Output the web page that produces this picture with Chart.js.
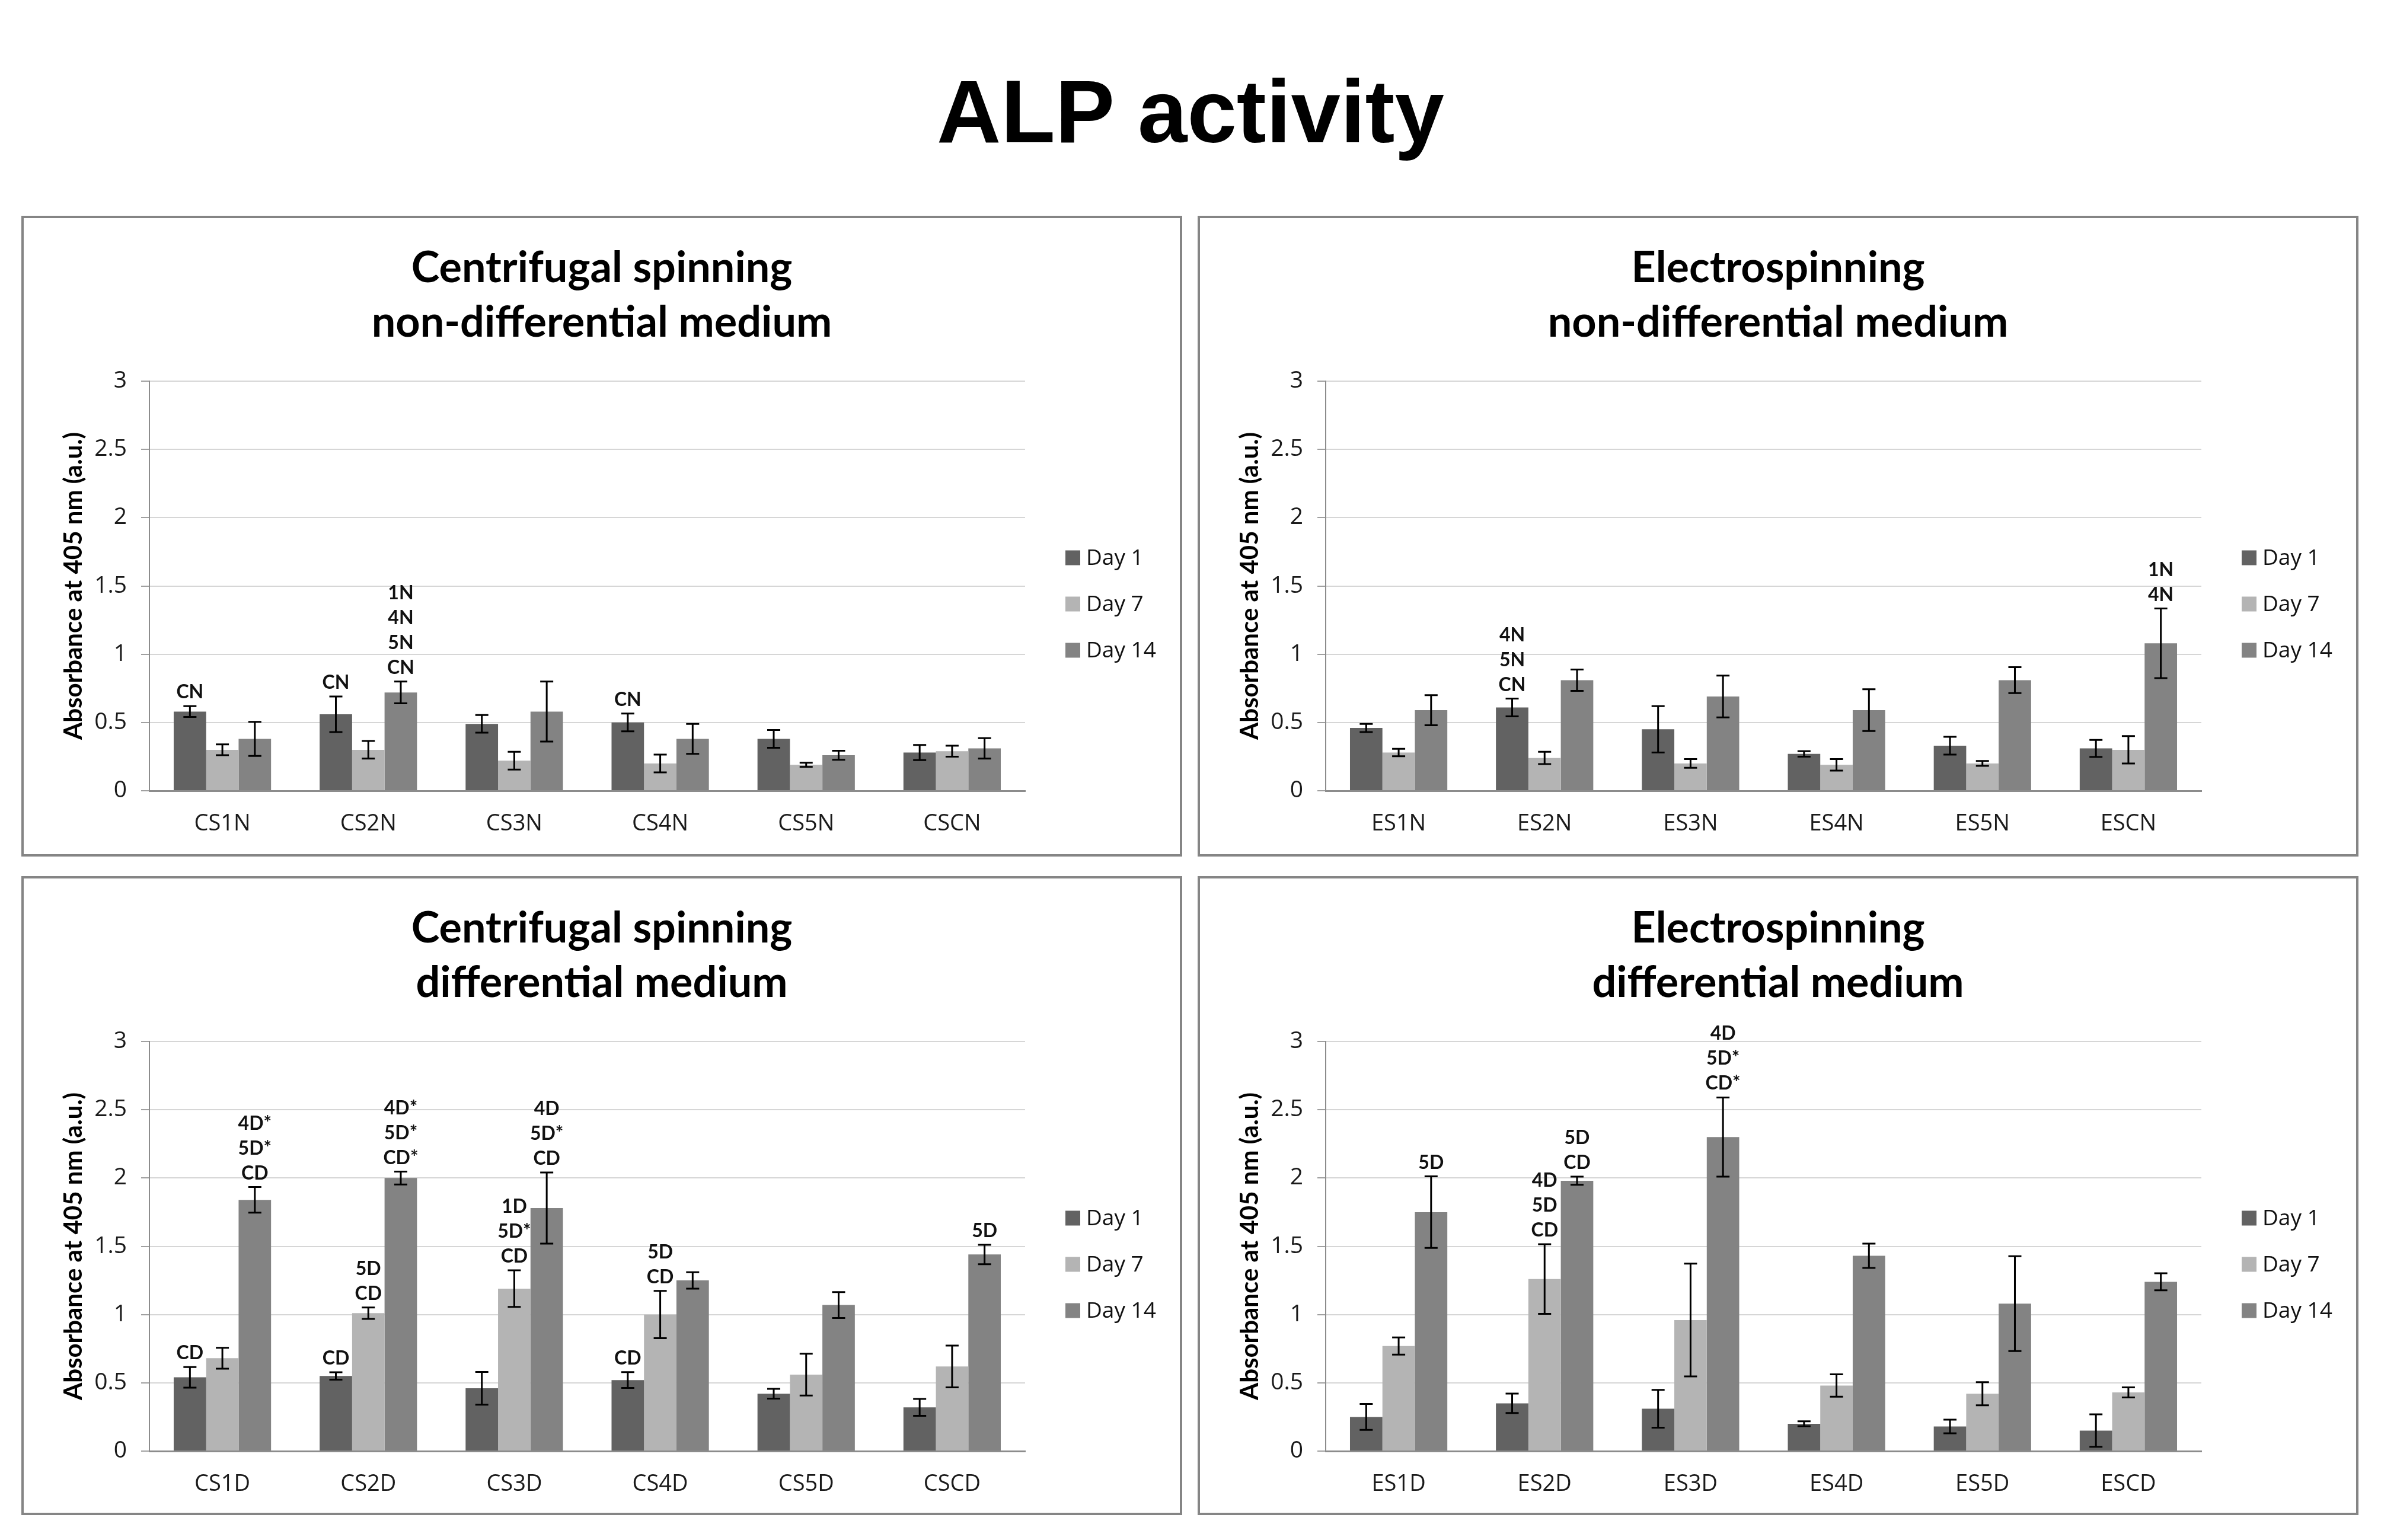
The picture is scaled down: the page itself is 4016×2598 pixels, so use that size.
<!DOCTYPE html>
<html><head><meta charset="utf-8">
<script src="https://cdn.jsdelivr.net/npm/chart.js@4.4.1/dist/chart.umd.min.js"></script>
<style>
html,body{margin:0;padding:0;background:#fff;}
body{width:4016px;height:2598px;position:relative;overflow:hidden;}
#mainTitle{position:absolute;left:0;top:113px;width:4016px;text-align:center;font-family:"Liberation Sans",Arial,sans-serif;font-weight:bold;font-size:150px;line-height:150px;color:#000;}
.panel{position:absolute;box-sizing:border-box;border:4px solid #858585;background:#fff;}
.panel canvas{position:absolute;left:0;top:0;}
</style></head><body>
<div id="mainTitle">ALP activity</div>
<div class="panel" style="left:36px;top:364px;width:1958px;height:1081px"><canvas id="c1" width="1950" height="1073"></canvas></div>
<div class="panel" style="left:2020px;top:364px;width:1958px;height:1081px"><canvas id="c2" width="1950" height="1073"></canvas></div>
<div class="panel" style="left:36px;top:1478px;width:1958px;height:1078px"><canvas id="c3" width="1950" height="1070"></canvas></div>
<div class="panel" style="left:2020px;top:1478px;width:1958px;height:1078px"><canvas id="c4" width="1950" height="1070"></canvas></div>
<script>
// ---------- DATA ----------
const seriesLabels = ['Day 1', 'Day 7', 'Day 14'];
const yTickLabels = ['0', '0.5', '1', '1.5', '2', '2.5', '3'];
const yAxisTitle = 'Absorbance at 405 nm (a.u.)';

// Centrifugal spinning, non-differential medium
const csnTitle = ['Centrifugal spinning', 'non-differential medium'];
const csnCats = ['CS1N', 'CS2N', 'CS3N', 'CS4N', 'CS5N', 'CSCN'];
const csnDay1 = [0.58, 0.56, 0.49, 0.50, 0.38, 0.28];
const csnDay7 = [0.30, 0.30, 0.22, 0.20, 0.19, 0.29];
const csnDay14 = [0.38, 0.72, 0.58, 0.38, 0.26, 0.31];
const csnErr1 = [0.04, 0.13, 0.065, 0.065, 0.065, 0.055];
const csnErr7 = [0.04, 0.065, 0.065, 0.065, 0.015, 0.04];
const csnErr14 = [0.125, 0.08, 0.22, 0.11, 0.033, 0.075];
const csnNotes = [[0, 0, ['CN']], [1, 0, ['CN']], [1, 2, ['1N', '4N', '5N', 'CN']], [3, 0, ['CN']]];

// Electrospinning, non-differential medium
const esnTitle = ['Electrospinning', 'non-differential medium'];
const esnCats = ['ES1N', 'ES2N', 'ES3N', 'ES4N', 'ES5N', 'ESCN'];
const esnDay1 = [0.46, 0.61, 0.45, 0.27, 0.33, 0.31];
const esnDay7 = [0.28, 0.24, 0.20, 0.19, 0.20, 0.30];
const esnDay14 = [0.59, 0.81, 0.69, 0.59, 0.81, 1.08];
const esnErr1 = [0.03, 0.065, 0.17, 0.02, 0.065, 0.062];
const esnErr7 = [0.027, 0.045, 0.032, 0.042, 0.018, 0.10];
const esnErr14 = [0.11, 0.078, 0.153, 0.153, 0.095, 0.255];
const esnNotes = [[1, 0, ['4N', '5N', 'CN']], [5, 2, ['1N', '4N']]];

// Centrifugal spinning, differential medium
const csdTitle = ['Centrifugal spinning', 'differential medium'];
const csdCats = ['CS1D', 'CS2D', 'CS3D', 'CS4D', 'CS5D', 'CSCD'];
const csdDay1 = [0.54, 0.55, 0.46, 0.52, 0.42, 0.32];
const csdDay7 = [0.68, 1.01, 1.19, 1.00, 0.56, 0.62];
const csdDay14 = [1.84, 2.00, 1.78, 1.25, 1.07, 1.44];
const csdErr1 = [0.075, 0.027, 0.12, 0.058, 0.036, 0.062];
const csdErr7 = [0.077, 0.042, 0.134, 0.173, 0.153, 0.153];
const csdErr14 = [0.094, 0.047, 0.26, 0.06, 0.095, 0.071];
const csdNotes = [[0, 0, ['CD']], [0, 2, ['4D*', '5D*', 'CD']], [1, 0, ['CD']], [1, 1, ['5D', 'CD']],
  [1, 2, ['4D*', '5D*', 'CD*']], [2, 1, ['1D', '5D*', 'CD']], [2, 2, ['4D', '5D*', 'CD']],
  [3, 0, ['CD']], [3, 1, ['5D', 'CD']], [5, 2, ['5D']]];

// Electrospinning, differential medium
const esdTitle = ['Electrospinning', 'differential medium'];
const esdCats = ['ES1D', 'ES2D', 'ES3D', 'ES4D', 'ES5D', 'ESCD'];
const esdDay1 = [0.25, 0.35, 0.31, 0.20, 0.18, 0.15];
const esdDay7 = [0.77, 1.26, 0.96, 0.48, 0.42, 0.43];
const esdDay14 = [1.75, 1.98, 2.30, 1.43, 1.08, 1.24];
const esdErr1 = [0.095, 0.071, 0.138, 0.018, 0.05, 0.119];
const esdErr7 = [0.063, 0.255, 0.413, 0.082, 0.085, 0.037];
const esdErr14 = [0.262, 0.03, 0.29, 0.089, 0.347, 0.062];
const esdNotes = [[0, 2, ['5D']], [1, 1, ['4D', '5D', 'CD']], [1, 2, ['5D', 'CD']], [2, 2, ['4D', '5D*', 'CD*']]];

// ---------- STYLE ----------
const seriesColors = ['#626262', '#b4b4b4', '#838383'];
const textFont = '"Open Sans", sans-serif';
const boldFont = 'Lato, "Open Sans", sans-serif';

const errorBarPlugin = {
  id: 'errorBars',
  afterDatasetsDraw(chart) {
    const ctx = chart.ctx, y = chart.scales.y;
    ctx.save();
    ctx.strokeStyle = '#000';
    ctx.lineWidth = 3;
    chart.data.datasets.forEach((ds, i) => {
      const meta = chart.getDatasetMeta(i);
      meta.data.forEach((bar, j) => {
        const v = ds.data[j], e = ds.errorBars[j];
        const yt = y.getPixelForValue(v + e), yb = y.getPixelForValue(v - e);
        const x = bar.x, hw = 11;
        ctx.beginPath();
        ctx.moveTo(x, yt); ctx.lineTo(x, yb);
        ctx.moveTo(x - hw, yt); ctx.lineTo(x + hw, yt);
        ctx.moveTo(x - hw, yb); ctx.lineTo(x + hw, yb);
        ctx.stroke();
      });
    });
    ctx.restore();
  }
};

const notesPlugin = {
  id: 'sigNotes',
  afterDatasetsDraw(chart, args, opts) {
    const ctx = chart.ctx, y = chart.scales.y;
    ctx.save();
    ctx.fillStyle = '#111';
    ctx.font = 'bold 32px ' + boldFont;
    ctx.textAlign = 'center';
    ctx.textBaseline = 'alphabetic';
    (opts.notes || []).forEach(([ci, si, lines]) => {
      const ds = chart.data.datasets[si];
      const bar = chart.getDatasetMeta(si).data[ci];
      const top = y.getPixelForValue(ds.data[ci] + ds.errorBars[ci]);
      let base = top - 13;
      for (let k = lines.length - 1; k >= 0; k--) {
        ctx.fillText(lines[k], bar.x, base);
        base -= 42;
      }
    });
    ctx.restore();
  }
};

const frameTextPlugin = {
  id: 'frameText',
  afterDraw(chart, args, opts) {
    const ctx = chart.ctx;
    ctx.save();
    // panel title
    ctx.fillStyle = '#000';
    ctx.font = 'bold 72px ' + boldFont;
    ctx.textAlign = 'center';
    ctx.textBaseline = 'middle';
    const cx = chart.width / 2;
    opts.title.forEach((t, k) => ctx.fillText(t, cx, 85 + k * 92));
    // legend
    ctx.textAlign = 'left';
    ctx.font = '37px ' + textFont;
    chart.data.datasets.forEach((ds, i) => {
      const yy = 573 + i * 78;
      ctx.fillStyle = ds.backgroundColor;
      ctx.fillRect(1757, yy - 12.5, 25, 25);
      ctx.fillStyle = '#111';
      ctx.fillText(ds.label, 1792, yy + 1);
    });
    ctx.restore();
  }
};

function makeChart(id, title, cats, d1, d7, d14, e1, e7, e14, notes, bottomH) {
  const vals = [d1, d7, d14], errs = [e1, e7, e14];
  return new Chart(document.getElementById(id), {
    type: 'bar',
    data: {
      labels: cats,
      datasets: seriesLabels.map((lab, i) => ({
        label: lab,
        data: vals[i],
        errorBars: errs[i],
        backgroundColor: seriesColors[i],
        borderWidth: 0,
        categoryPercentage: 0.667,
        barPercentage: 1.0
      }))
    },
    plugins: [errorBarPlugin, notesPlugin, frameTextPlugin],
    options: {
      responsive: false,
      animation: false,
      devicePixelRatio: 1,
      layout: { padding: { top: 275, right: 261, left: 0, bottom: 0 } },
      plugins: {
        legend: { display: false },
        tooltip: { enabled: false },
        title: { display: false },
        sigNotes: { notes: notes },
        frameText: { title: title }
      },
      scales: {
        x: {
          grid: { display: false, drawTicks: false },
          border: { display: true, color: '#8c8c8c', width: 3 },
          ticks: { font: { family: textFont, size: 38 }, color: '#1a1a1a', padding: 33, maxRotation: 0, autoSkip: false },
          afterFit(s) { s.height = bottomH; }
        },
        y: {
          min: 0, max: 3,
          ticks: {
            stepSize: 0.5,
            font: { family: textFont, size: 39 },
            color: '#1a1a1a',
            padding: 24,
            callback: (v) => yTickLabels[Math.round(v / 0.5)]
          },
          grid: { color: '#d6d6d6', lineWidth: 2, drawTicks: true, tickLength: 14, tickColor: '#a0a0a0' },
          border: { display: true, color: '#8c8c8c', width: 2 },
          title: {
            display: true, text: yAxisTitle, color: '#000',
            font: { family: boldFont, size: 42, weight: 'bold' },
            padding: { top: 59, bottom: 0 }
          },
          afterFit(s) { s.width = 212; }
        }
      }
    }
  });
}

makeChart('c1', csnTitle, csnCats, csnDay1, csnDay7, csnDay14, csnErr1, csnErr7, csnErr14, csnNotes, 107);
makeChart('c2', esnTitle, esnCats, esnDay1, esnDay7, esnDay14, esnErr1, esnErr7, esnErr14, esnNotes, 107);
makeChart('c3', csdTitle, csdCats, csdDay1, csdDay7, csdDay14, csdErr1, csdErr7, csdErr14, csdNotes, 104);
makeChart('c4', esdTitle, esdCats, esdDay1, esdDay7, esdDay14, esdErr1, esdErr7, esdErr14, esdNotes, 104);
</script>
</body></html>
